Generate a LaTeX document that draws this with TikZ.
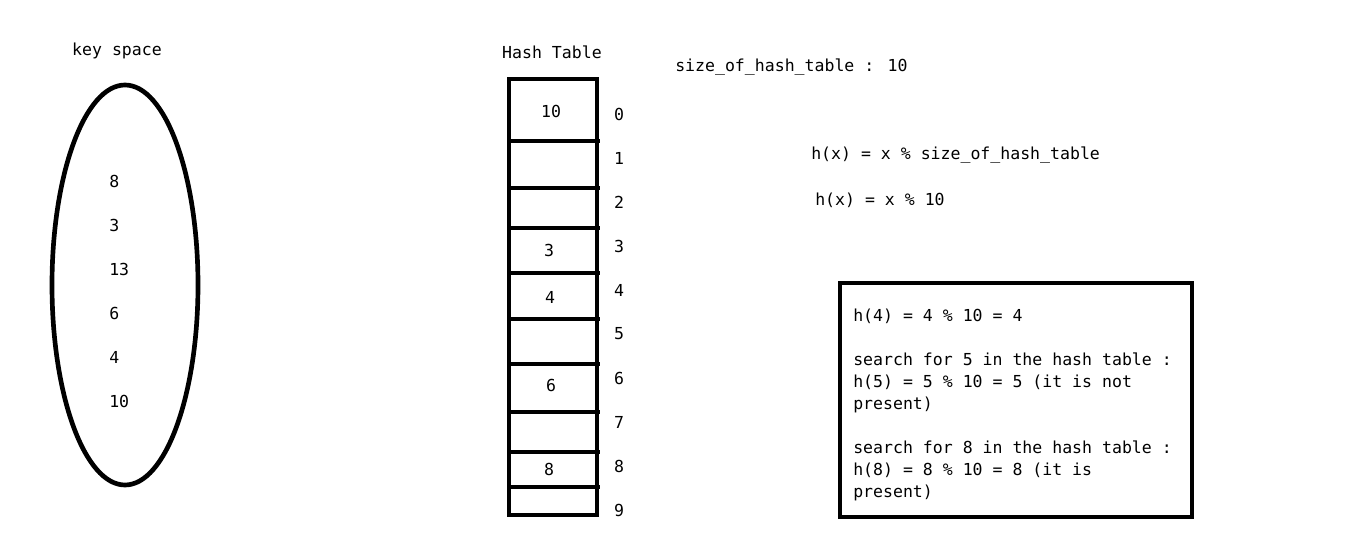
\documentclass[tikz,border=0pt]{standalone}
\usepackage{fontspec}
\newfontfamily\codefont{DejaVu Sans Mono}
\usetikzlibrary{shapes}

\tikzset{
  txt/.style={font=\codefont\fontsize{12.4}{16.5}\selectfont, inner sep=0.75pt},
  thick line/.style={line width=3pt}
}

\begin{document}
\begin{tikzpicture}[x=0.75pt,y=0.75pt,yscale=-1,xscale=1]
\useasboundingbox (0,0) rectangle (1354,553);

% Text Node
\draw (117,51) node (keyhead) [txt] {key space};
%Ellipse
\draw [line width=3.5pt] (125,285) ellipse (73 and 200);
% keys
\foreach \k [count=\n] in {8,3,13,6,4,10}
  \draw (108,137+44*\n) node (key\n) [txt,anchor=west] {\k};

% Text Node
\draw (552,52) node (tablehead) [txt] {Hash Table};
%Rect
\draw [thick line] (509,79) rectangle (597,515);
\foreach \y in {141,188,228,273,319,364,412,452,487}
  \draw [thick line] (509,\y) -- (600,\y);
% cell values
\draw (551,111) node (val0) [txt] {10};
\draw (549,250) node (val3) [txt] {3};
\draw (550,297) node (val4) [txt] {4};
\draw (551,385) node (val6) [txt] {6};
\draw (549,469) node (val8) [txt] {8};
% index labels
\foreach \i in {0,...,9}
  \draw (619,114+44*\i) node (idx\i) [txt] {\i};

% Text Node
\draw (674,67) node (size) [txt,anchor=west] {size\_of\_hash\_table : 10};
% Text Node
\draw (810,155) node (hfun) [txt,anchor=west] {h(x) = x \% size\_of\_hash\_table};
% Text Node
\draw (814,200) node (hten) [txt,anchor=west] {h(x) = x \% 10};

%Box
\draw [thick line] (840,283) rectangle (1192,517);
% Text Node
\draw (852,308) node (steps) [txt,anchor=north west,align=left] {h(4) = 4 \% 10 = 4\\[16.5pt]
search for 5 in the hash table :\\
h(5) = 5 \% 10 = 5 (it is not\\
present)\\[16.5pt]
search for 8 in the hash table :\\
h(8) = 8 \% 10 = 8 (it is\\
present)};

\end{tikzpicture}
\end{document}
